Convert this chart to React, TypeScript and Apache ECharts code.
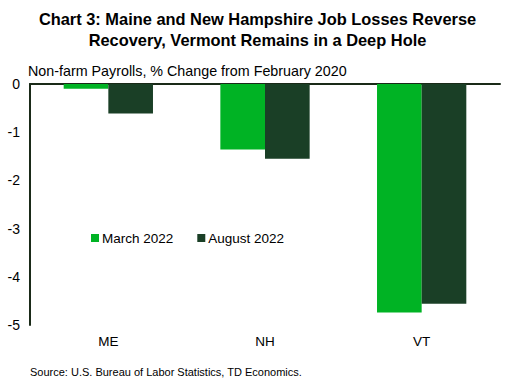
import React, { useEffect, useRef } from "react";
import * as echarts from "echarts";

const categories = ["ME", "NH", "VT"];
const march2022 = [-0.1, -1.36, -4.74];
const august2022 = [-0.61, -1.55, -4.56];
const seriesNames = ["March 2022", "August 2022"];

export default function App() {
  const ref = useRef<HTMLDivElement>(null);
  useEffect(() => {
    const chart = echarts.init(ref.current!, null, { renderer: "svg" });
    const font = "Liberation Sans, Arial, sans-serif";
    chart.setOption({
      animation: false,
      backgroundColor: "#ffffff",
      textStyle: { fontFamily: font },
      title: [
        {
          text: "Chart 3: Maine and New Hampshire Job Losses Reverse\nRecovery, Vermont Remains in a Deep Hole",
          left: "center",
          top: 3,
          textStyle: { fontFamily: font, fontSize: 16.4, fontWeight: "bold", color: "#000", lineHeight: 21, align: "center" },
        },
        {
          text: "Non-farm Payrolls, % Change from February 2020",
          left: 23,
          top: 59,
          textStyle: { fontFamily: font, fontSize: 14.3, fontWeight: "normal", color: "#000" },
        },
        {
          text: "Source: U.S. Bureau of Labor Statistics, TD Economics.",
          left: 25,
          top: 361,
          textStyle: { fontFamily: font, fontSize: 11, fontWeight: "normal", color: "#000" },
        },
      ],
      legend: {
        left: 86,
        top: 226,
        itemWidth: 8,
        itemHeight: 8,
        itemGap: 24,
        icon: "rect",
        textStyle: { fontFamily: font, fontSize: 13.5, color: "#000", padding: [0, 0, 0, -2] },
        data: seriesNames,
      },
      grid: { left: 30, right: 15, top: 84, bottom: 59, containLabel: false },
      xAxis: [
        {
          type: "category",
          data: categories,
          position: "bottom",
          axisLine: { show: false },
          axisTick: { show: false },
          axisLabel: { fontFamily: font, fontSize: 13.5, color: "#000", margin: 9 },
        },
        {
          type: "category",
          data: categories,
          position: "top",
          axisLine: { show: true, lineStyle: { color: "#1a2a18", width: 2 } },
          axisTick: { show: false },
          axisLabel: { show: false },
        },
      ],
      yAxis: {
        type: "value",
        min: -5,
        max: 0,
        interval: 1,
        axisLine: { show: true, lineStyle: { color: "#1a2a18", width: 2 } },
        axisTick: { show: false },
        splitLine: { show: false },
        axisLabel: { fontFamily: font, fontSize: 14, color: "#000", margin: 10 },
      },
      series: [
        {
          name: seriesNames[0],
          type: "bar",
          data: march2022,
          itemStyle: { color: "#00b324" },
          barGap: "0%",
          barCategoryGap: "43%",
        },
        {
          name: seriesNames[1],
          type: "bar",
          data: august2022,
          itemStyle: { color: "#1a3f26" },
          barGap: "0%",
          barCategoryGap: "43%",
        },
      ],
    });
    return () => chart.dispose();
  }, []);
  return <div ref={ref} style={{ width: 515, height: 384, position: "absolute", left: 0, top: 0 }} />;
}
